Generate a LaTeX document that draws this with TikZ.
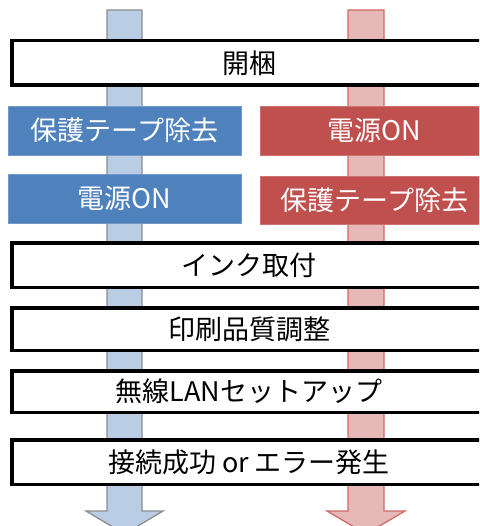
\documentclass[tikz,border=0pt]{standalone}
\usepackage{fontspec}
\setmainfont{Noto Sans CJK JP}
\definecolor{boxblue}{HTML}{4F81BD}
\definecolor{boxred}{HTML}{C0504D}
\definecolor{arrblue}{HTML}{B9CDE5}
\definecolor{arrred}{HTML}{E6B9B8}
\definecolor{arrblueline}{HTML}{8C8C8C}
\definecolor{arrredline}{HTML}{D06A68}
\begin{document}
\begin{tikzpicture}[x=1pt,y=-1pt,
  stepbox/.style={draw=black, line width=3.5pt, fill=white, minimum width=474.5pt,
    minimum height=44.5pt, inner sep=0pt, text=black, font=\fontsize{27}{30}\selectfont},
  bluebox/.style={fill=boxblue, draw=boxblue!80!white, line width=0.6pt, minimum width=233pt,
    minimum height=49pt, inner sep=0pt, text=white, font=\fontsize{27}{30}\selectfont},
  redbox/.style={fill=boxred, draw=boxred!80!white, line width=0.6pt, minimum width=229pt,
    minimum height=49pt, inner sep=0pt, text=white, font=\fontsize{27}{30}\selectfont},
  bluearrow/.style={fill=arrblue, draw=arrblueline, line width=1.3pt},
  redarrow/.style={fill=arrred, draw=arrredline, line width=1.3pt}]
\useasboundingbox (0,0) rectangle (479,526);
\clip (0,0) rectangle (479,526);
% arrows
\coordinate (bt) at (124.5,10);
\coordinate (rt) at (366,10);
\draw[bluearrow] ([xshift=-17.5pt]bt) -- ([xshift=17.5pt]bt) -- ++(0,501) -- ++(21,0)
  -- ([yshift=-524pt]bt) -- ++(-38.5,-23) -- ++(21,0) -- cycle;
\draw[redarrow] ([xshift=-18pt]rt) -- ([xshift=18pt]rt) -- ++(0,501) -- ++(21,0)
  -- ([yshift=-524pt]rt) -- ++(-39,-23) -- ++(21,0) -- cycle;
% boxes
\node[stepbox] (kaikon) at (249,63) {開梱};
\node[bluebox] (b1) at (124.5,130.5) {保護テープ除去};
\node[bluebox] (b2) at (124.5,198.5) {電源ON};
\node[redbox] (r1) at (374.5,130.5) {電源ON};
\node[redbox, minimum height=48pt] (r2) at (374.5,200) {保護テープ除去};
\node[stepbox] (ink) at (249,265) {インク取付};
\node[stepbox, minimum height=42.5pt] (print) at (249,329) {印刷品質調整};
\node[stepbox, minimum height=41.5pt] (lan) at (249,391.5) {無線LANセットアップ};
\node[stepbox] (conn) at (249,462) {接続成功 or エラー発生};
\end{tikzpicture}
\end{document}
